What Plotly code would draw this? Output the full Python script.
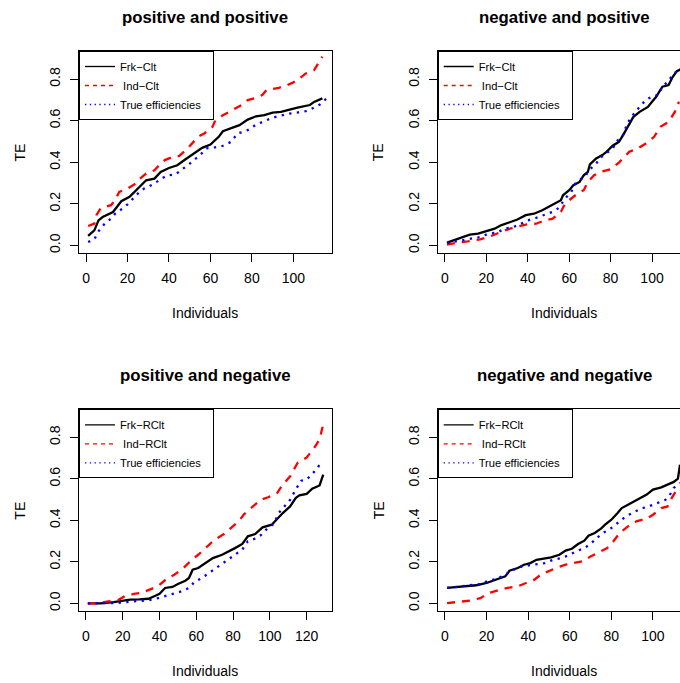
import plotly.graph_objects as go

# ---------------- data ----------------
# Panel 1: positive and positive
pp_frk_x = [1, 4, 6, 8, 13, 17, 21, 25, 29, 33, 36, 40, 44, 48, 52, 56, 60, 64, 66, 70, 74, 78, 82, 86, 90, 94, 98, 102, 108, 110, 114]
pp_frk_y = [0.045, 0.072, 0.120, 0.136, 0.160, 0.212, 0.233, 0.273, 0.313, 0.321, 0.353, 0.372, 0.385, 0.414, 0.441, 0.469, 0.485, 0.522, 0.549, 0.565, 0.578, 0.605, 0.621, 0.626, 0.638, 0.642, 0.654, 0.663, 0.675, 0.690, 0.707]
pp_ind_x = [1, 4, 5, 7, 12, 14, 16, 20, 24, 26, 29, 33, 36, 38, 42, 45, 49, 51, 54, 57, 61, 62, 66, 69, 72, 75, 78, 82, 85, 87, 93, 96, 100, 102, 106, 110, 112, 114]
pp_ind_y = [0.093, 0.104, 0.145, 0.177, 0.193, 0.217, 0.257, 0.273, 0.297, 0.321, 0.345, 0.361, 0.393, 0.410, 0.426, 0.430, 0.466, 0.490, 0.522, 0.538, 0.570, 0.594, 0.626, 0.642, 0.659, 0.675, 0.699, 0.710, 0.723, 0.747, 0.758, 0.766, 0.784, 0.795, 0.827, 0.843, 0.875, 0.908]
pp_true_x = [1, 4, 6, 9, 12, 14, 18, 20, 25, 28, 32, 35, 39, 43, 46, 50, 55, 58, 62, 66, 70, 73, 76, 79, 82, 86, 90, 93, 98, 102, 106, 109, 113, 116]
pp_true_y = [0.016, 0.029, 0.067, 0.104, 0.128, 0.152, 0.180, 0.197, 0.249, 0.273, 0.292, 0.313, 0.337, 0.340, 0.361, 0.393, 0.434, 0.466, 0.471, 0.479, 0.498, 0.538, 0.546, 0.559, 0.581, 0.597, 0.614, 0.622, 0.634, 0.639, 0.646, 0.658, 0.679, 0.707]

# Panel 2: negative and positive
np_frk_x = [1, 4, 8, 12, 16, 20, 24, 27, 31, 35, 39, 43, 47, 51, 53, 56, 57, 60, 62, 65, 67, 69, 70, 73, 76, 78, 81, 84, 86, 89, 91, 94, 98, 100, 102, 105, 108, 110, 112, 114]
np_frk_y = [0.013, 0.024, 0.035, 0.051, 0.056, 0.067, 0.080, 0.096, 0.109, 0.124, 0.145, 0.152, 0.169, 0.189, 0.201, 0.217, 0.241, 0.265, 0.289, 0.305, 0.337, 0.353, 0.389, 0.418, 0.434, 0.450, 0.479, 0.498, 0.530, 0.586, 0.618, 0.642, 0.666, 0.691, 0.715, 0.763, 0.771, 0.811, 0.838, 0.848]
np_ind_x = [1, 6, 11, 17, 21, 25, 29, 34, 39, 44, 48, 52, 56, 58, 61, 64, 67, 69, 72, 76, 80, 84, 89, 93, 97, 101, 104, 108, 111, 113]
np_ind_y = [0.003, 0.013, 0.019, 0.029, 0.040, 0.056, 0.072, 0.088, 0.100, 0.104, 0.120, 0.128, 0.161, 0.201, 0.225, 0.249, 0.265, 0.305, 0.337, 0.356, 0.366, 0.398, 0.450, 0.466, 0.490, 0.522, 0.570, 0.594, 0.642, 0.691]
np_true_x = [1, 5, 9, 13, 17, 21, 25, 29, 33, 36, 40, 44, 48, 52, 55, 58, 61, 63, 65, 68, 70, 73, 75, 78, 81, 83, 86, 88, 91, 94, 97, 100, 103, 105, 108, 110, 113]
np_true_y = [0.011, 0.019, 0.024, 0.032, 0.040, 0.056, 0.061, 0.080, 0.088, 0.100, 0.120, 0.132, 0.148, 0.161, 0.180, 0.225, 0.257, 0.297, 0.313, 0.337, 0.366, 0.393, 0.421, 0.442, 0.466, 0.501, 0.530, 0.586, 0.630, 0.666, 0.699, 0.716, 0.724, 0.764, 0.790, 0.822, 0.845]

# Panel 3: positive and negative
pn_frk_x = [1, 8, 15, 20, 24, 29, 34, 38, 40, 43, 47, 50, 54, 56, 58, 61, 65, 69, 74, 77, 81, 85, 88, 92, 96, 101, 104, 107, 111, 114, 116, 120, 123, 126, 127, 129]
pn_frk_y = [0.000, 0.000, 0.006, 0.013, 0.018, 0.019, 0.022, 0.038, 0.046, 0.074, 0.079, 0.093, 0.109, 0.122, 0.162, 0.170, 0.194, 0.218, 0.234, 0.247, 0.266, 0.286, 0.323, 0.334, 0.366, 0.379, 0.408, 0.435, 0.467, 0.507, 0.520, 0.527, 0.552, 0.564, 0.568, 0.620]
pn_ind_x = [1, 6, 12, 18, 21, 26, 30, 35, 39, 44, 48, 53, 57, 61, 65, 70, 75, 79, 83, 86, 90, 95, 99, 104, 107, 111, 115, 120, 124, 127, 129]
pn_ind_y = [0.000, 0.000, 0.009, 0.018, 0.034, 0.045, 0.050, 0.066, 0.082, 0.119, 0.138, 0.170, 0.205, 0.234, 0.265, 0.307, 0.334, 0.363, 0.395, 0.430, 0.462, 0.499, 0.511, 0.532, 0.572, 0.612, 0.676, 0.703, 0.748, 0.789, 0.864]
pn_true_x = [1, 6, 11, 16, 20, 25, 29, 34, 38, 43, 48, 52, 56, 59, 63, 67, 70, 74, 77, 81, 85, 88, 92, 95, 99, 102, 105, 108, 111, 114, 117, 120, 124, 126, 128]
pn_true_y = [0.000, 0.000, 0.000, 0.001, 0.005, 0.009, 0.013, 0.015, 0.022, 0.034, 0.045, 0.058, 0.074, 0.103, 0.122, 0.146, 0.167, 0.189, 0.210, 0.234, 0.259, 0.299, 0.312, 0.328, 0.365, 0.382, 0.437, 0.467, 0.499, 0.548, 0.591, 0.596, 0.636, 0.652, 0.688]

# Panel 4: negative and negative
nn_frk_x = [1, 6, 11, 15, 20, 23, 27, 29, 31, 35, 38, 41, 44, 47, 51, 55, 58, 61, 64, 67, 69, 72, 75, 77, 80, 83, 85, 88, 91, 94, 97, 100, 104, 107, 110, 112, 113]
nn_frk_y = [0.074, 0.079, 0.082, 0.087, 0.098, 0.109, 0.122, 0.130, 0.157, 0.170, 0.186, 0.194, 0.210, 0.215, 0.221, 0.234, 0.254, 0.263, 0.286, 0.302, 0.326, 0.339, 0.360, 0.379, 0.403, 0.435, 0.459, 0.475, 0.491, 0.511, 0.524, 0.548, 0.559, 0.572, 0.585, 0.601, 0.668]
nn_ind_x = [1, 7, 12, 17, 21, 25, 30, 35, 39, 43, 46, 50, 54, 58, 62, 67, 70, 75, 78, 81, 84, 88, 92, 97, 100, 104, 107, 109, 111, 113]
nn_ind_y = [0.001, 0.006, 0.013, 0.025, 0.050, 0.061, 0.074, 0.082, 0.098, 0.114, 0.138, 0.157, 0.173, 0.186, 0.194, 0.205, 0.226, 0.250, 0.266, 0.299, 0.339, 0.371, 0.395, 0.408, 0.427, 0.459, 0.467, 0.507, 0.540, 0.559]
nn_true_x = [1, 5, 9, 13, 17, 21, 25, 29, 33, 37, 41, 44, 48, 52, 56, 60, 63, 67, 70, 73, 76, 80, 84, 87, 91, 94, 98, 102, 106, 108, 110, 113]
nn_true_y = [0.074, 0.079, 0.082, 0.087, 0.093, 0.109, 0.119, 0.138, 0.162, 0.178, 0.183, 0.189, 0.194, 0.210, 0.218, 0.234, 0.250, 0.266, 0.286, 0.315, 0.339, 0.363, 0.395, 0.419, 0.440, 0.456, 0.467, 0.483, 0.499, 0.520, 0.556, 0.580]

panel_titles = ["positive and positive", "negative and positive",
                "positive and negative", "negative and negative"]
top_names = ["Frk\u2212Clt", "\u00a0Ind\u2212Clt", "True efficiencies\u00a0\u00a0"]
bottom_names = ["Frk\u2212RClt", "\u00a0Ind\u2212RClt", "True efficiencies\u00a0\u00a0"]
y_ticks = [0.0, 0.2, 0.4, 0.6, 0.8]
x_ticks_a = [0, 20, 40, 60, 80, 100]
x_ticks_b = [0, 20, 40, 60, 80, 100, 120]
x_label = "Individuals"
y_label = "TE"

# ---------------- layout geometry (pixels of the 680x683 window) ----------------
W, H = 680, 683
FONT = "Liberation Sans, Arial, Helvetica, sans-serif"


def fx(p):
    return p / W


def fy(p):
    return 1 - p / H


panels = [
    dict(x0=79, x1=331.7, y0=51, y1=253, xr=[-3.4, 118.5], ticks=x_ticks_a,
         data=[(pp_frk_x, pp_frk_y), (pp_ind_x, pp_ind_y), (pp_true_x, pp_true_y)],
         names=top_names, mirror_y=True, cx=205.4),
    dict(x0=437.7, x1=680, y0=51, y1=253, xr=[-3.5, 113.5], ticks=x_ticks_a,
         data=[(np_frk_x, np_frk_y), (np_ind_x, np_ind_y), (np_true_x, np_true_y)],
         names=top_names, mirror_y=False, cx=564.2),
    dict(x0=79, x1=331.7, y0=409.3, y1=611, xr=[-3.8, 133.6], ticks=x_ticks_b,
         data=[(pn_frk_x, pn_frk_y), (pn_ind_x, pn_ind_y), (pn_true_x, pn_true_y)],
         names=bottom_names, mirror_y=True, cx=205.4),
    dict(x0=437.7, x1=680, y0=409.3, y1=611, xr=[-3.5, 113.0], ticks=x_ticks_a,
         data=[(nn_frk_x, nn_frk_y), (nn_ind_x, nn_ind_y), (nn_true_x, nn_true_y)],
         names=bottom_names, mirror_y=False, cx=564.2),
]

styles = [
    dict(color="#000000", dash="solid"),
    dict(color="#FF0000", dash="8px,7px"),
    dict(color="#0000FF", dash="2.3px,5.4px"),
]
legend_dash = ["solid", "4px,4px", "1.3px,3.5px"]

fig = go.Figure()
layout = dict(
    width=W, height=H, margin=dict(l=0, r=0, t=0, b=0),
    paper_bgcolor="white", plot_bgcolor="white",
    font=dict(family=FONT, color="black"),
    annotations=[],
)

for i, p in enumerate(panels):
    k = "" if i == 0 else str(i + 1)
    xa, ya = "x" + k, "y" + k
    lg = "legend" + k
    for j, (xs, ys) in enumerate(p["data"]):
        st = styles[j]
        fig.add_trace(go.Scatter(
            x=xs, y=ys, mode="lines", xaxis=xa, yaxis=ya, showlegend=False,
            line=dict(color=st["color"], width=2.3, dash=st["dash"]),
            hoverinfo="skip"))
    for j, nm in enumerate(p["names"]):
        fig.add_trace(go.Scatter(
            x=[None], y=[None], mode="lines", xaxis=xa, yaxis=ya, name=nm,
            legend=lg, showlegend=True,
            line=dict(color=styles[j]["color"], width=1.3, dash=legend_dash[j])))

    layout["xaxis" + k] = dict(
        domain=[fx(p["x0"]), min(1.0, fx(p["x1"]))], anchor=ya, range=p["xr"],
        tickvals=p["ticks"], ticks="outside", ticklen=8, tickcolor="black",
        tickwidth=1, showline=True, linecolor="black", linewidth=1, mirror=True,
        showgrid=False, zeroline=False, tickfont=dict(size=14, family=FONT),
        ticklabelstandoff=4)
    layout["yaxis" + k] = dict(
        domain=[fy(p["y1"]), fy(p["y0"])], anchor=xa, range=[-0.037, 0.935],
        tickvals=y_ticks, tickformat=".1f", ticks="outside", ticklen=8,
        tickcolor="black", tickwidth=1, showline=True, linecolor="black",
        linewidth=1, mirror=p["mirror_y"], showgrid=False, zeroline=False,
        tickangle=-90, tickfont=dict(size=14, family=FONT),
        ticklabelstandoff=4)
    layout[lg] = dict(
        x=fx(p["x0"]), y=fy(p["y0"]), xanchor="left", yanchor="top",
        bordercolor="black", borderwidth=1, bgcolor="white",
        font=dict(size=11.2, family=FONT), tracegroupgap=0, itemwidth=30,
        traceorder="normal")

    top = p["y0"]
    bot = p["y1"]
    layout["annotations"].append(dict(
        text="<b>" + panel_titles[i] + "</b>", xref="paper", yref="paper",
        x=fx(p["cx"]), y=fy(top - 34), xanchor="center", yanchor="middle",
        showarrow=False, font=dict(size=16.8, family=FONT)))
    layout["annotations"].append(dict(
        text=x_label, xref="paper", yref="paper",
        x=fx(p["cx"]), y=fy(bot + 59.5), xanchor="center", yanchor="middle",
        showarrow=False, font=dict(size=14, family=FONT)))
    layout["annotations"].append(dict(
        text=y_label, xref="paper", yref="paper", textangle=-90,
        x=fx(p["x0"] - 59), y=fy((top + bot) / 2 + 0.5), xanchor="center",
        yanchor="middle", showarrow=False, font=dict(size=14, family=FONT)))

fig.update_layout(**layout)

# remove the default page margin so the 680x683 figure fills the window exactly
page_fix = ("document.body.style.margin='0px';"
            "document.body.style.overflow='hidden';"
            "document.documentElement.style.overflow='hidden';")
fig.write_html("out.html", post_script=page_fix,
               config={"displayModeBar": False, "staticPlot": True})
